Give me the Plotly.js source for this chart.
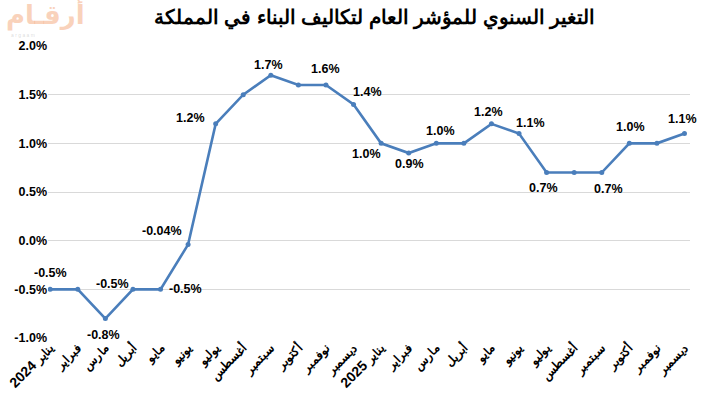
<!DOCTYPE html>
<html>
<head>
<meta charset="utf-8">
<script src="https://cdn.plot.ly/plotly-3.0.1.min.js"></script>
<style>html,body{margin:0;padding:0;background:#fff;}#chart{width:704px;height:404px;}</style>
</head>
<body>
<div id="chart"></div>
<script>
const months = ['يناير','فبراير','مارس','أبريل','مايو','يونيو','يوليو','أغسطس','سبتمبر','أكتوبر','نوفمبر','ديسمبر'];
const years = ['2024','2025'];
const values = [-0.5,-0.5,-0.8,-0.5,-0.5,-0.04,1.2,1.5,1.7,1.6,1.6,1.4,
                1.0,0.9,1.0,1.0,1.2,1.1,0.7,0.7,0.7,1.0,1.0,1.1];
const yTicks = [-1.0,-0.5,0.0,0.5,1.0,1.5,2.0];

// label placement (pixel shifts) for points that carry a data label
const labelShifts = {
  0:[0,16], 2:[-2,-16], 3:[-20,5], 4:[25,0], 5:[-26,14], 6:[-25,6],
  8:[-2,10], 10:[0,16], 11:[14,12], 12:[-15,-11], 13:[1,-11], 14:[4,12],
  16:[-3,12], 17:[11,11], 18:[-3,-15], 20:[7,-16], 21:[1,16], 23:[-2,15]
};

const FONT = 'Liberation Sans, Arial, sans-serif';
const xIdx = values.map((v,i)=>i);
const tickText = xIdx.map(i=>{
  const m = months[i%12];
  return (i%12===0) ? '<b>' + m + ' <span style="font-size:14px">' + years[Math.floor(i/12)] + '</span></b>' : '<b>' + m + '</b>';
});
const fmt = v => (Math.abs(v) < 0.1 && v !== 0 ? v.toFixed(2) : v.toFixed(1)) + '%';

const annotations = Object.keys(labelShifts).map(k=>{
  const i = +k;
  return {x:i, y:values[i], xref:'x', yref:'y', text:'<b>'+fmt(values[i])+'</b>', showarrow:false,
    xshift:labelShifts[k][0], yshift:labelShifts[k][1],
    font:{family:FONT, size:12.5, color:'#000'}};
});
// title + logo
annotations.push({text:'<b>التغير السنوي للمؤشر العام لتكاليف البناء في المملكة</b>',
  xref:'paper', yref:'paper', x:0.508, y:1, xanchor:'center', yanchor:'bottom', showarrow:false,
  yshift:14, font:{family:FONT, size:19.5, color:'#000'}});
annotations.push({text:'<b>أرقـام</b>', xref:'paper', yref:'paper', x:-0.068, y:1.046, xanchor:'left', yanchor:'bottom',
  showarrow:false, font:{family:'DejaVu Sans, sans-serif', size:26, color:'rgba(244,165,120,0.5)'}});
annotations.push({text:'a r g a a m', xref:'paper', yref:'paper', x:-0.06, y:1.036, xanchor:'left', yanchor:'middle',
  showarrow:false, font:{family:FONT, size:5, color:'rgba(150,150,150,0.35)'}});

const trace = {
  x: xIdx, y: values, type:'scatter', mode:'lines+markers',
  line:{color:'#4a7ebb', width:2.6}, marker:{color:'#4a7ebb', size:5},
  hoverinfo:'skip'
};

const layout = {
  width:704, height:404,
  margin:{l:48, r:14, t:46, b:66},
  paper_bgcolor:'#fff', plot_bgcolor:'#fff',
  showlegend:false,
  font:{family:FONT, color:'#000'},
  xaxis:{range:[-0.08,23.2], tickvals:xIdx, ticktext:tickText, tickangle:-45,
    showgrid:false, zeroline:false, showline:false, ticks:'',
    tickfont:{size:12, color:'#000', family:FONT}},
  yaxis:{range:[-1,2], tickvals:yTicks, ticktext:yTicks.map(v=>'<b>'+v.toFixed(1)+'%</b>'),
    showgrid:true, gridcolor:'#d9d9d9', gridwidth:1, zeroline:false, showline:false, ticks:'',
    tickfont:{size:12.5, color:'#000', family:FONT}},
  annotations: annotations
};

Plotly.newPlot('chart',[trace],layout,{displayModeBar:false, staticPlot:true});
</script>
</body>
</html>
